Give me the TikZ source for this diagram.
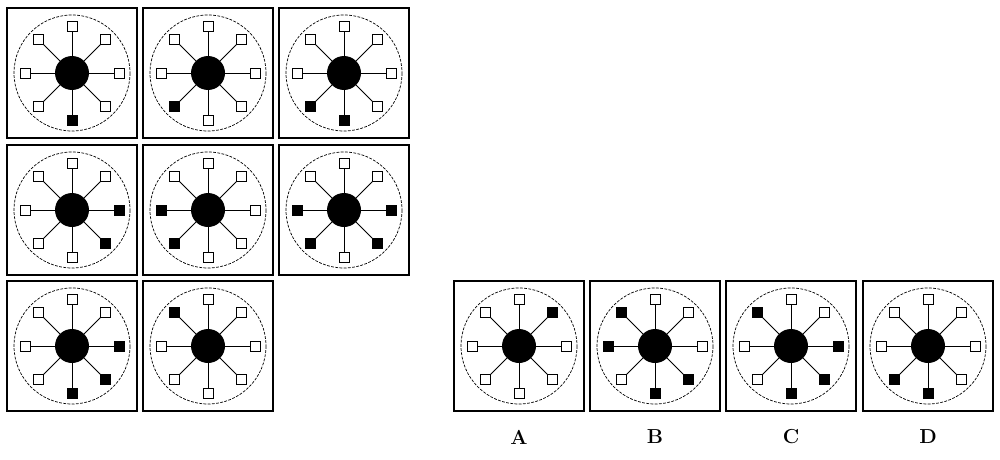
\documentclass[tikz,border=0pt]{standalone}
\usepackage{tikz}
\usetikzlibrary{calc}
\tikzset{
  frame/.style={draw, line width=0.8pt},
  mark box/.style={draw, fill=white, line width=0.6pt, minimum size=7pt, inner sep=0pt},
  full box/.style={mark box, fill=black},
  letter/.style={font=\bfseries\Large}
}
% #1 name, #2 x, #3 y, #4 filled angles
\newcommand{\wheel}[4]{
  \draw[frame] (#2-65,#3+65) rectangle (#2+65,#3-65);
  \draw[dashed, dash pattern=on 2pt off 1pt, line width=0.5pt] (#2,#3) circle (58);
  \foreach \a in {0,45,...,315}
    \draw[line width=0.6pt] (#2,#3) -- ++(\a:47);
  \fill (#2,#3) circle (17);
  \foreach \a in {0,45,...,315}
    \node[mark box] (#1-\a) at ($(#2,#3)+(\a:47)$) {};
  \foreach \a in {#4}
    \node[full box] at (#1-\a) {};
}
\begin{document}
\begin{tikzpicture}[x=0.025cm, y=-0.025cm]
  \useasboundingbox (0,0) rectangle (1000,460);
  % the eight figures
  \wheel{p1}{72}{73}{90}
  \wheel{p2}{208}{73}{135}
  \wheel{p3}{344}{73}{90,135}
  \wheel{p4}{72}{210}{45,0}
  \wheel{p5}{208}{210}{135,180}
  \wheel{p6}{344}{210}{135,45,180,0}
  \wheel{p7}{72}{346}{90,45,0}
  \wheel{p8}{208}{346}{225}
  % answers
  \wheel{a}{519}{346}{315}
  \wheel{b}{655}{346}{90,45,180,225}
  \wheel{c}{791}{346}{90,45,0,225}
  \wheel{d}{928}{346}{90,135}
  \node[letter] (la) at (519,437) {A};
  \node[letter] (lb) at (655,437) {B};
  \node[letter] (lc) at (791,437) {C};
  \node[letter] (ld) at (928,437) {D};
\end{tikzpicture}
\end{document}
